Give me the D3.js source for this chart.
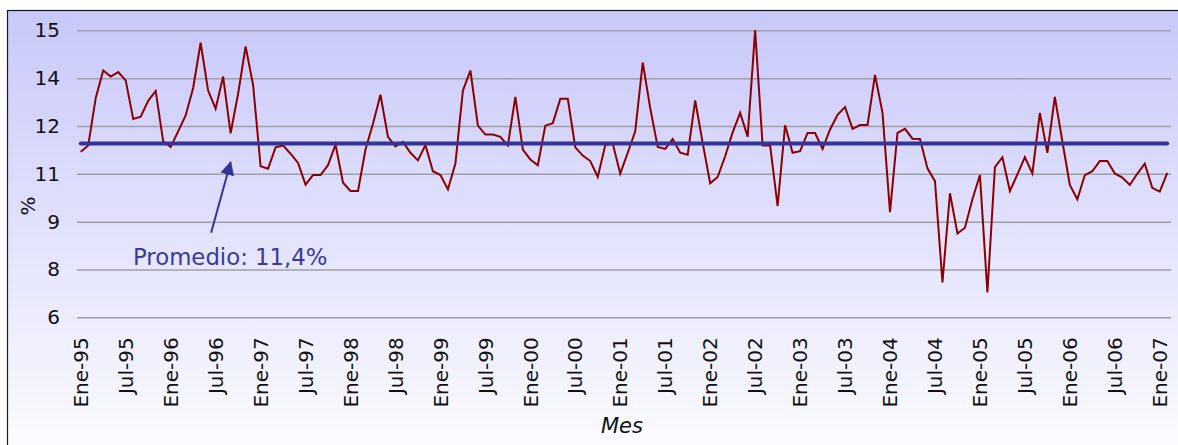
<!DOCTYPE html>
<html>
<head>
<meta charset="utf-8">
<script src="https://cdn.jsdelivr.net/npm/d3@7"></script>
<style>
	html, body { margin: 0; padding: 0; background: #fff; }
	svg { display: block; font-family: "DejaVu Sans", sans-serif; }
</style>
</head>
<body>
<div id="canvas"></div>
<script>

// Monthly values, Ene-95 .. Feb-07 (%)
var values = [
	11.19, 11.39, 12.88, 13.74, 13.55, 13.69, 13.43, 12.22, 12.29, 12.79, 13.10, 11.52,
	11.34, 11.83, 12.33, 13.19, 14.61, 13.11, 12.54, 13.55, 11.77, 13.01, 14.49, 13.29,
	10.74, 10.66, 11.33, 11.39, 11.13, 10.84, 10.16, 10.46, 10.46, 10.77, 11.42, 10.22,
	9.96, 9.96, 11.26, 12.07, 12.98, 11.66, 11.36, 11.50, 11.16, 10.92, 11.40, 10.58,
	10.46, 10.01, 10.82, 13.11, 13.74, 12.01, 11.73, 11.73, 11.66, 11.39, 12.91, 11.26,
	10.95, 10.77, 12.01, 12.09, 12.85, 12.85, 11.33, 11.07, 10.90, 10.40, 11.40, 11.44,
	10.51, 11.16, 11.83, 13.99, 12.56, 11.34, 11.28, 11.59, 11.16, 11.10, 12.80, 11.47,
	10.20, 10.40, 11.05, 11.80, 12.41, 11.66, 15.00, 11.39, 11.39, 9.49, 12.02, 11.16,
	11.21, 11.78, 11.78, 11.28, 11.89, 12.35, 12.59, 11.91, 12.03, 12.03, 13.60, 12.41,
	9.30, 11.78, 11.91, 11.60, 11.59, 10.67, 10.27, 7.09, 9.89, 8.63, 8.81, 9.70,
	10.46, 6.78, 10.71, 11.02, 9.96, 10.48, 11.02, 10.51, 12.41, 11.16, 12.91, 11.52,
	10.15, 9.70, 10.46, 10.58, 10.90, 10.90, 10.51, 10.38, 10.15, 10.50, 10.82, 10.06,
	9.94, 10.53
];
var monthNames = ['Ene', 'Feb', 'Mar', 'Abr', 'May', 'Jun', 'Jul', 'Ago', 'Sep', 'Oct', 'Nov', 'Dic'];
var firstYear = 1995;
var yTicks = [6, 7.5, 9, 10.5, 12, 13.5, 15];
var promedio = 11.45;
var promedioLabel = 'Promedio: 11,4%';
var yTitle = '%';
var xTitle = 'Mes';

// category labels "Ene-95", "Feb-95", ...
var months = values.map(function(v, i) {
	var yr = firstYear + Math.floor(i / 12);
	return monthNames[i % 12] + '-' + String(yr).slice(2);
});

var width = 1178, height = 445,
	plot = { left: 77, right: 1171, top: 30.3, bottom: 317.3 };

var svg = d3.select('#canvas').append('svg')
	.attr('width', width)
	.attr('height', height);

// background gradient box
var grad = svg.append('defs').append('linearGradient')
	.attr('id', 'bg').attr('x1', 0).attr('y1', 0).attr('x2', 0).attr('y2', 1);
grad.append('stop').attr('offset', '0%').attr('stop-color', '#c8c8fa');
grad.append('stop').attr('offset', '100%').attr('stop-color', '#fdfdff');

svg.append('rect')
	.attr('x', 7.5).attr('y', 10.5)
	.attr('width', 1180).attr('height', 450)
	.attr('fill', 'url(#bg)')
	.attr('stroke', '#1a1a1a')
	.attr('stroke-width', 1.2);

var x = d3.scaleBand().domain(months).range([plot.left, plot.right]).padding(0);
var y = d3.scaleLinear().domain([6, 15]).range([plot.bottom, plot.top]);
var cx = function(m) { return x(m) + x.bandwidth() / 2; };

// gridlines + y labels
var yAxis = svg.append('g')
	.attr('transform', 'translate(' + plot.left + ',0)')
	.call(d3.axisLeft(y).tickValues(yTicks).tickFormat(d3.format('.0f'))
		.tickSize(-(plot.right - plot.left)).tickPadding(17));
yAxis.select('.domain').remove();
yAxis.selectAll('line').attr('stroke', '#a0a0a0').attr('stroke-width', 1.5);
yAxis.selectAll('text').attr('font-size', 20).attr('fill', '#111')
	.attr('font-family', '"DejaVu Sans", sans-serif');

// x labels, every six months
var xAxis = svg.append('g')
	.attr('transform', 'translate(0,' + plot.bottom + ')')
	.call(d3.axisBottom(x)
		.tickValues(months.filter(function(m, i) { return i % 6 === 0; }))
		.tickSize(0));
xAxis.select('.domain').remove();
xAxis.selectAll('text')
	.attr('font-size', 20).attr('fill', '#111')
	.attr('font-family', '"DejaVu Sans", sans-serif')
	.attr('transform', 'rotate(-90)')
	.attr('text-anchor', 'end')
	.attr('x', -20).attr('y', 0).attr('dy', '0.36em');

// series
var line = d3.line()
	.x(function(d, i) { return cx(months[i]); })
	.y(function(d) { return y(d); });
svg.append('path')
	.datum(values)
	.attr('d', line)
	.attr('fill', 'none')
	.attr('stroke', '#8b0000')
	.attr('stroke-width', 2)
	.attr('stroke-linejoin', 'miter');

// average
svg.append('line')
	.attr('x1', cx(months[0])).attr('x2', cx(months[months.length - 1]))
	.attr('y1', y(promedio)).attr('y2', y(promedio))
	.attr('stroke', '#333399')
	.attr('stroke-width', 4)
	.attr('stroke-linecap', 'round');

// annotation arrow
svg.select('defs').append('marker')
	.attr('id', 'head')
	.attr('viewBox', '0 0 10 10')
	.attr('refX', 9).attr('refY', 5)
	.attr('markerWidth', 7).attr('markerHeight', 7)
	.attr('markerUnits', 'strokeWidth')
	.attr('orient', 'auto')
	.append('path').attr('d', 'M0,0 L10,5 L0,10 Z').attr('fill', '#333399');

svg.append('line')
	.attr('x1', cx(months[17]) + 3).attr('y1', y(8.65))
	.attr('x2', cx(months[20])).attr('y2', y(10.86))
	.attr('stroke', '#333399')
	.attr('stroke-width', 2)
	.attr('marker-end', 'url(#head)');

svg.append('text')
	.attr('x', 133).attr('y', y(7.63))
	.attr('font-size', 22.8)
	.attr('fill', '#3a3a9a')
	.text(promedioLabel);

// axis titles
svg.append('text')
	.attr('transform', 'translate(35,206) rotate(-90)')
	.attr('text-anchor', 'middle')
	.attr('font-size', 20).attr('fill', '#111')
	.text(yTitle);

svg.append('text')
	.attr('x', 622).attr('y', 433)
	.attr('text-anchor', 'middle')
	.attr('font-size', 21).attr('font-style', 'italic').attr('fill', '#111')
	.text(xTitle);

</script>
</body>
</html>
